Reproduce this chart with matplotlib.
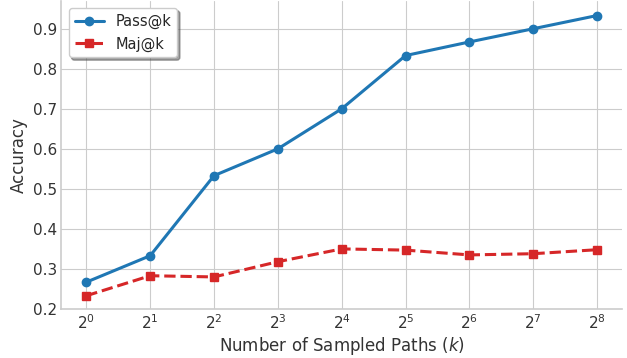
import matplotlib
matplotlib.use("Agg")
import matplotlib.pyplot as plt
from matplotlib.ticker import LogLocator, LogFormatterMathtext, NullLocator

k_values = [1, 2, 4, 8, 16, 32, 64, 128, 256]
pass_at_k = [0.267, 0.333, 0.533, 0.600, 0.700, 0.833, 0.867, 0.900, 0.933]
maj_at_k = [0.233, 0.283, 0.280, 0.318, 0.350, 0.347, 0.335, 0.338, 0.348]

plt.style.use("seaborn-v0_8-whitegrid")
plt.rcParams["font.family"] = ["DejaVu Sans"]
plt.rcParams["mathtext.fontset"] = "dejavusans"
fig, ax = plt.subplots(figsize=(6.27, 3.58), dpi=100)

ax.plot(k_values, pass_at_k, color="#1f77b4", marker="o", markersize=6,
        linewidth=2.2, label="Pass@k")
ax.plot(k_values, maj_at_k, color="#d62728", marker="s", markersize=6,
        linewidth=2.2, linestyle="--", label="Maj@k")

ax.set_xscale("log", base=2)
ax.xaxis.set_major_locator(LogLocator(base=2, numticks=20))
ax.xaxis.set_major_formatter(LogFormatterMathtext(base=2))
ax.xaxis.set_minor_locator(NullLocator())
ax.set_xlim(2 ** -0.39, 2 ** 8.39)
ax.set_ylim(0.2, 0.97)
ax.set_yticks([0.2, 0.3, 0.4, 0.5, 0.6, 0.7, 0.8, 0.9])

ax.set_xlabel("Number of Sampled Paths ($k$)", fontsize=12, color="#333333",
              labelpad=2)
ax.set_ylabel("Accuracy", fontsize=12, color="#333333")
ax.tick_params(labelsize=11, colors="#333333", pad=3)

for side in ["left", "bottom"]:
    ax.spines[side].set_visible(True)
    ax.spines[side].set_color("#cccccc")
    ax.spines[side].set_linewidth(1.2)
for side in ["top", "right"]:
    ax.spines[side].set_visible(False)

ax.legend(loc="upper left", fontsize=10.5, frameon=True, shadow=True,
          fancybox=True, framealpha=1, borderaxespad=0.5)

fig.subplots_adjust(left=0.098, right=0.992, bottom=0.137, top=0.998)
fig.savefig("out.png", dpi=100)
